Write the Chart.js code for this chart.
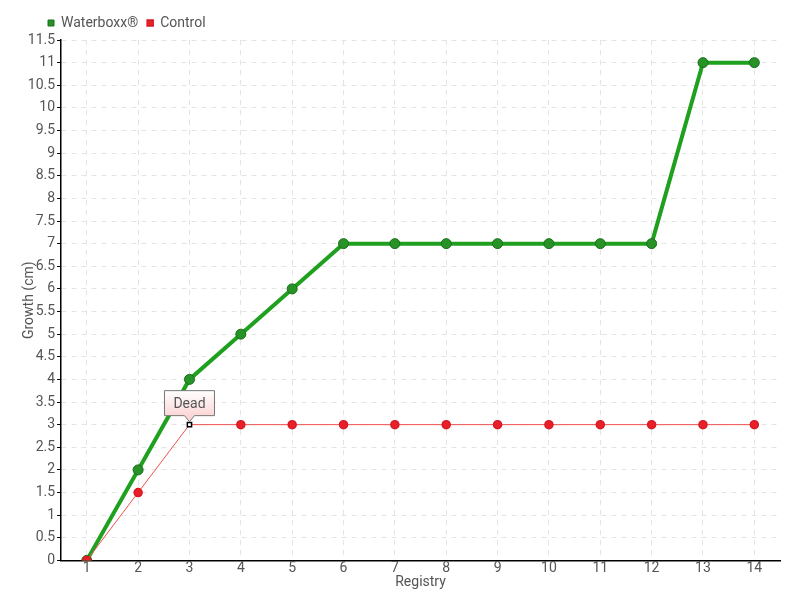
<!DOCTYPE html>
<html>
<head>
<meta charset="utf-8">
<script src="https://cdn.jsdelivr.net/npm/chart.js@4"></script>
<style>
  html, body { margin: 0; padding: 0; background: #fff; }
  #wrap { width: 800px; height: 600px; }
</style>
</head>
<body>
<div id="wrap"><canvas id="miGrafico" width="800" height="600"></canvas></div>
<script>
const registros = ["1", "2", "3", "4", "5", "6", "7", "8", "9", "10", "11", "12", "13", "14"];
const waterboxx = [0, 2, 4, 5, 6, 7, 7, 7, 7, 7, 7, 7, 11, 11];
const control = [0, 1.5, 3, 3, 3, 3, 3, 3, 3, 3, 3, 3, 3, 3];
const notaIndice = 2;
const notaTexto = "Dead";

const fuente = "Roboto, 'DejaVu Sans', sans-serif";

// estilo de puntos del control: el punto "Dead" va como cuadrito blanco
const estiloControl = control.map((v, i) => (i === notaIndice ? "rect" : "circle"));
const rellenoControl = control.map((v, i) => (i === notaIndice ? "#ffffff" : "#e8202a"));
const bordeControl = control.map((v, i) => (i === notaIndice ? "#000000" : "#d81a24"));
const radioControl = control.map((v, i) => (i === notaIndice ? 3 : 4));

// etiqueta "Dead" sobre el punto
const notaPlugin = {
  id: "nota",
  afterDatasetsDraw(chart) {
    const ctx = chart.ctx;
    const x = chart.scales.x.getPixelForValue(notaIndice);
    const y = chart.scales.y.getPixelForValue(control[notaIndice]);
    const w = 50, h = 25;
    const left = x - w / 2, top = y - 9 - h;
    ctx.save();
    const grad = ctx.createLinearGradient(0, top, 0, top + h);
    grad.addColorStop(0, "#ffffff");
    grad.addColorStop(1, "#fcd6d6");
    ctx.beginPath();
    ctx.moveTo(left, top);
    ctx.lineTo(left + w, top);
    ctx.lineTo(left + w, top + h);
    ctx.lineTo(x + 5, top + h);
    ctx.lineTo(x, top + h + 6);
    ctx.lineTo(x - 5, top + h);
    ctx.lineTo(left, top + h);
    ctx.closePath();
    ctx.fillStyle = grad;
    ctx.fill();
    ctx.strokeStyle = "#777";
    ctx.lineWidth = 1;
    ctx.stroke();
    ctx.fillStyle = "#555";
    ctx.font = "14px " + fuente;
    ctx.textAlign = "center";
    ctx.textBaseline = "middle";
    ctx.fillText(notaTexto, x, top + h / 2 + 1);
    ctx.restore();
  },
};

// mueve la leyenda un poco a la derecha, como en el original
const leyendaPlugin = {
  id: "leyendaCorrida",
  afterLayout(chart) {
    chart.legend.left += 34;
  },
};

const ctx = document.getElementById("miGrafico").getContext("2d");
const miGrafico = new Chart(ctx, {
  type: "line",
  data: {
    labels: registros,
    datasets: [
      {
        label: "Waterboxx®",
        data: waterboxx,
        borderColor: "#1fa01f",
        borderWidth: 4,
        pointRadius: 5,
        pointBackgroundColor: "#279327",
        pointBorderColor: "#1a6f1a",
        pointBorderWidth: 1,
        backgroundColor: "#1fa01f",
        tension: 0,
        order: 2,
      },
      {
        label: "Control",
        data: control,
        borderColor: "#f05050",
        borderWidth: 1,
        pointRadius: radioControl,
        pointStyle: estiloControl,
        pointBackgroundColor: rellenoControl,
        pointBorderColor: bordeControl,
        pointBorderWidth: 1.5,
        backgroundColor: "#e8202a",
        tension: 0,
        order: 1,
      },
    ],
  },
  options: {
    responsive: false,
    animation: false,
    layout: { padding: { left: 5, right: 20, top: 7, bottom: 9 } },
    plugins: {
      legend: {
        display: true,
        align: "start",
        labels: {
          usePointStyle: true,
          pointStyle: "rect",
          boxWidth: 6,
          boxHeight: 6,
          padding: 9,
          color: "#555",
          font: { family: fuente, size: 14 },
          sort: (a, b) => a.datasetIndex - b.datasetIndex,
        },
      },
      tooltip: { enabled: false },
    },
    scales: {
      x: {
        offset: true,
        grid: {
          offset: false,
          color: "#e4e4e4",
          drawTicks: false,
        },
        border: { color: "#000", width: 1.5, dash: [5, 5] },
        ticks: { color: "#555", font: { family: fuente, size: 14 }, padding: 0 },
        title: {
          display: true,
          text: "Registry",
          color: "#555",
          font: { family: fuente, size: 14 },
          padding: { top: -3, bottom: 0 },
        },
      },
      y: {
        min: 0,
        max: 11.5,
        grid: { color: "#e4e4e4", tickColor: "#000", tickLength: 4, tickBorderDash: [] },
        border: { color: "#000", width: 1.5, dash: [5, 5] },
        ticks: {
          stepSize: 0.5,
          color: "#555",
          font: { family: fuente, size: 14 },
          padding: 2,
          callback: (v) => String(v),
        },
        title: {
          display: true,
          text: "Growth (cm)",
          color: "#555",
          font: { family: fuente, size: 14 },
          padding: { top: 16, bottom: -12 },
        },
      },
    },
  },
  plugins: [notaPlugin, leyendaPlugin],
});
</script>
</body>
</html>
